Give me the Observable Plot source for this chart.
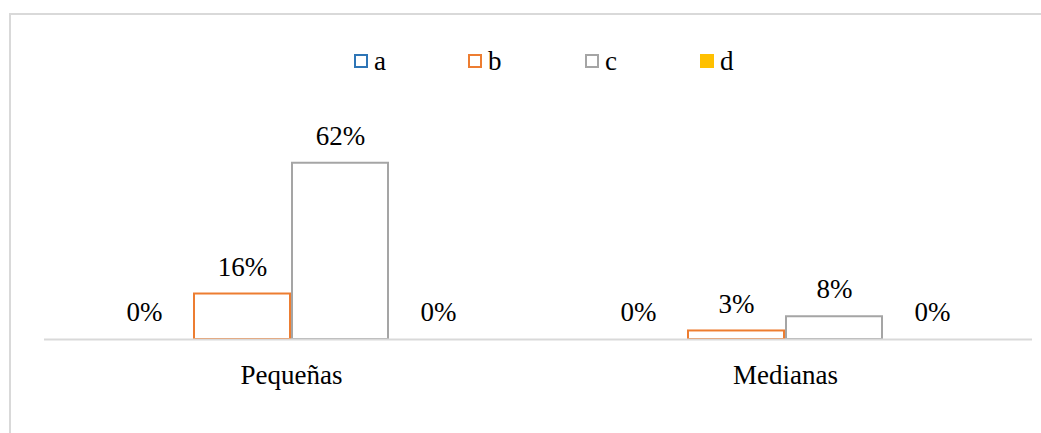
<!DOCTYPE html>
<html>
<head>
<meta charset="utf-8">
<script src="https://cdn.jsdelivr.net/npm/d3@7"></script>
<script src="https://cdn.jsdelivr.net/npm/@observablehq/plot@0.6"></script>
<style>
  html, body { margin: 0; padding: 0; background: #fff; overflow: hidden; }
  #wrap { position: relative; width: 1041px; height: 433px; }
  #frame { position: absolute; left: 9px; top: 13px; width: 1100px; height: 500px; border: 2px solid #d9d9d9; box-sizing: border-box; }
  #legend { position: absolute; top: 46px; left: 0; width: 1041px; height: 30px; font-family: "Liberation Serif", "Times New Roman", serif; font-size: 27px; color: #000; }
  .item { position: absolute; top: 0; display: flex; align-items: center; height: 30px; }
  .sw { width: 14px; height: 14px; box-sizing: border-box; margin-right: 6px; }
  #chart { position: absolute; left: 0; top: 0; }
</style>
</head>
<body>
<div id="wrap">
  <div id="frame"></div>
  <div id="chart"></div>
  <div id="legend"></div>
</div>
<script>
const categories = ["Pequeñas", "Medianas"];
const seriesNames = ["a", "b", "c", "d"];
const seriesColors = ["#2E75B6", "#ED7D31", "#A5A5A5", "#FFC000"];
const seriesFilled = [false, false, false, true];
const valuesPequenas = [0, 16, 62, 0];
const valuesMedianas = [0, 3, 8, 0];

const data = [];
categories.forEach((cat, ci) => {
  const vals = ci === 0 ? valuesPequenas : valuesMedianas;
  seriesNames.forEach((s, si) => data.push({category: cat, series: s, value: vals[si]}));
});

const font = "'Liberation Serif', 'Times New Roman', serif";

const chart = Plot.plot({
  width: 1041,
  height: 433,
  marginLeft: 44,
  marginRight: 9,
  marginTop: 140,
  marginBottom: 94,
  style: {fontFamily: font, background: "transparent", overflow: "visible"},
  fx: {domain: categories, padding: 0, label: null},
  x: {domain: seriesNames, paddingInner: 0, paddingOuter: 0.5, axis: null},
  y: {domain: [0, 70], axis: null},
  color: {domain: seriesNames, range: seriesColors},
  marks: [
    Plot.barY(data, {
      fx: "category", x: "series", y: "value",
      fill: d => seriesFilled[seriesNames.indexOf(d.series)] ? seriesColors[seriesNames.indexOf(d.series)] : "white",
      stroke: "series",
      strokeWidth: 2,
      insetLeft: 1, insetRight: 1,
      filter: d => d.value > 0
    }),
    Plot.ruleY([0], {stroke: "#d9d9d9", strokeWidth: 2}),
    Plot.text(data, {
      fx: "category", x: "series", y: "value",
      text: d => d.value + "%",
      dy: -27,
      fontSize: 27,
      fontFamily: font,
      fill: "#000"
    }),
    Plot.axisFx({anchor: "bottom", tickSize: 0, tickPadding: 25, fontSize: 27, fontFamily: font, label: null, fill: "#000"})
  ]
});
document.getElementById("chart").appendChild(chart);

const legend = document.getElementById("legend");
const legendX = [354, 468, 585, 700];
seriesNames.forEach((s, i) => {
  const it = document.createElement("div");
  it.className = "item";
  it.style.left = legendX[i] + "px";
  const sw = document.createElement("div");
  sw.className = "sw";
  if (seriesFilled[i]) sw.style.background = seriesColors[i];
  else sw.style.border = "2px solid " + seriesColors[i];
  const tx = document.createElement("span");
  tx.textContent = s;
  it.appendChild(sw);
  it.appendChild(tx);
  legend.appendChild(it);
});
</script>
</body>
</html>
